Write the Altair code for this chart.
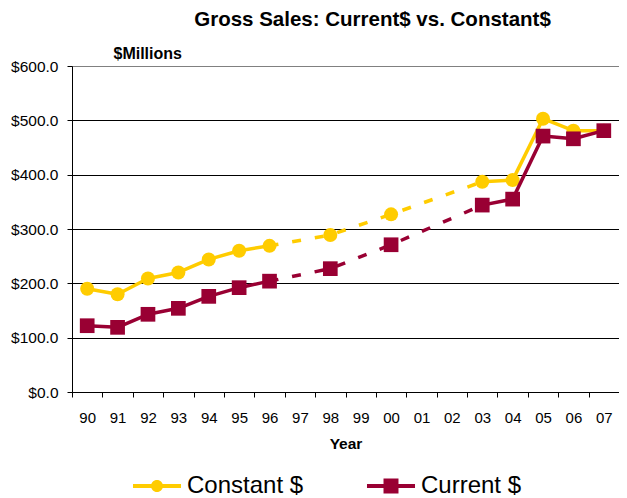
import altair as alt
import pandas as pd

# ---- data ----
categories = ["90", "91", "92", "93", "94", "95", "96", "97", "98", "99",
              "00", "01", "02", "03", "04", "05", "06", "07"]
years = ["90", "91", "92", "93", "94", "95", "96", "98", "00", "03", "04", "05", "06", "07"]
constant = [190, 180, 209, 220, 244, 260, 269, 289, 327, 387, 390, 503, 481, 481]
current = [122, 119, 143, 154, 176, 192, 204, 227, 271, 344, 355, 471, 466, 481]
series_names = ["Constant $", "Current $"]
colors = ["#FFCC00", "#990033"]
y_ticks = [0, 100, 200, 300, 400, 500, 600]
solid_runs = [["90", "91", "92", "93", "94", "95", "96"], ["03", "04", "05", "06", "07"]]
dashed_run = ["96", "98", "00", "03"]

FONT = "Liberation Sans"

rows = []
for name, vals in zip(series_names, [constant, current]):
    for yr, v in zip(years, vals):
        rows.append({"series": name, "year": yr, "value": v})
df = pd.DataFrame(rows)

solid_rows = []
for i, run in enumerate(solid_runs):
    part = df[df["year"].isin(run)].copy()
    part["run"] = i
    solid_rows.append(part)
df_solid = pd.concat(solid_rows, ignore_index=True)
df_dash = df[df["year"].isin(dashed_run)].copy()

x_axis = alt.Axis(title="Year", labelAngle=0, tickBand="extent", tickSize=5,
                  labelFontSize=15, labelPadding=13, titleFontSize=15.5,
                  titleFontWeight="bold", titlePadding=11, domainColor="black",
                  tickColor="black", grid=False, labelColor="black", titleColor="black",
                  labelFont=FONT, titleFont=FONT)
y_axis = alt.Axis(values=y_ticks, format="$.1f", title="$Millions", titleAngle=0,
                  titleAlign="left", titleBaseline="middle", titleX=41, titleY=-13,
                  titleFontWeight="bold", titleFontSize=16, labelFontSize=15.5,
                  labelPadding=9, tickSize=5, tickColor="black", domainColor="black",
                  gridColor={"condition": {"test": "datum.value == 600", "value": "#808080"},
                             "value": "black"},
                  labelColor="black", titleColor="black", labelFont=FONT, titleFont=FONT)

x_enc = alt.X("year:N", scale=alt.Scale(type="band", domain=categories,
                                         paddingInner=0, paddingOuter=0), axis=x_axis)
y_enc = alt.Y("value:Q", scale=alt.Scale(domain=[0, 600], nice=False), axis=y_axis)
color_enc = alt.Color("series:N", scale=alt.Scale(domain=series_names, range=colors), title=None)

circle_path = ("M-3.43,-0.29 H3.43 V0.29 H-3.43 Z "
               "M-0.86,0 A0.86,0.86 0 1,1 0.86,0 A0.86,0.86 0 1,1 -0.86,0 Z")
square_path = ("M-3.43,-0.29 H3.43 V0.29 H-3.43 Z "
               "M-1.07,-1.07 H1.07 V1.07 H-1.07 Z")

layers = []
for name, shape, size in [("Constant $", "circle", 196), ("Current $", "square", 216)]:
    flt = alt.datum.series == name
    layers.append(
        alt.Chart(df_solid).transform_filter(flt)
        .mark_line(strokeWidth=3.5, strokeJoin="round")
        .encode(x=x_enc, y=y_enc, color=color_enc, detail="run:N")
    )
    layers.append(
        alt.Chart(df_dash).transform_filter(flt)
        .mark_line(strokeWidth=3.5, strokeDash=[9, 14], strokeCap="butt")
        .encode(x=x_enc, y=y_enc, color=color_enc)
    )
    layers.append(
        alt.Chart(df).transform_filter(flt)
        .mark_point(shape=shape, size=size, filled=True, opacity=1)
        .encode(x=x_enc, y=y_enc, color=color_enc)
    )

legend_layer = (
    alt.Chart(df).transform_filter("datum.value < 0")
    .mark_point(filled=True, opacity=1)
    .encode(
        x=x_enc, y=y_enc, color=color_enc,
        shape=alt.Shape("series:N", scale=alt.Scale(domain=series_names,
                                                    range=[circle_path, square_path]),
                        title=None),
    )
)
layers.append(legend_layer)

chart = (
    alt.layer(*layers)
    .properties(
        width=547, height=326,
        title=alt.TitleParams(text="Gross Sales: Current$ vs. Constant$", fontSize=20.5,
                              fontWeight="bold", anchor="middle", dx=27, dy=-11,
                              color="black", font=FONT),
        autosize=alt.AutoSizeParams(type="none"),
        padding={"left": 64, "top": 58, "right": 0, "bottom": 106},
    )
    .configure(font=FONT)
    .configure_view(stroke="#808080", strokeWidth=1)
    .configure_legend(orient="none", direction="horizontal", legendX=73, legendY=408,
                      labelFontSize=24, labelFont=FONT, labelColor="black",
                      symbolSize=196, symbolStrokeWidth=0, symbolOpacity=1,
                      labelOffset=18, columnPadding=62, padding=0)
)

chart.save("out.html", embed_options={"renderer": "svg", "actions": False})
